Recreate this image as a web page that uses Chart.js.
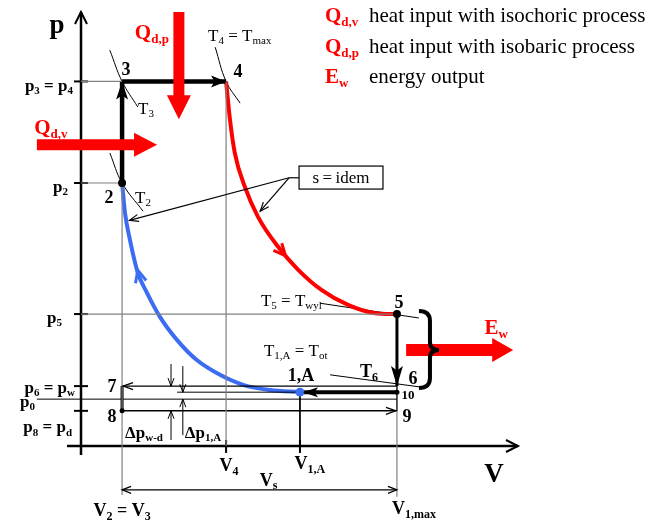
<!DOCTYPE html>
<html>
<head>
<meta charset="utf-8">
<script src="https://cdn.jsdelivr.net/npm/chart.js@4/dist/chart.umd.min.js"></script>
<style>
  html, body { margin: 0; padding: 0; background: #fff; }
  #wrap { width: 663px; height: 524px; }
</style>
</head>
<body>
<div id="wrap"><canvas id="chart" width="663" height="524"></canvas></div>
<script>
// p-V diagram of the mixed (Sabathe) cycle.
// Axis units: V and p in % of the drawn axis length.

// characteristic volumes
const V2 = 9.4, V4 = 33.2, V1A = 50.1, V1MAX = 72.3;
// characteristic pressures
const P3 = 84.0, P2 = 60.6, P5 = 30.4, P6 = 13.8, P10 = 12.4, P0 = 10.8, P8 = 8.1;

// compression 1,A -> 2 (blue) and expansion 4 -> 5 (red)
const BLUE_V = [9.4, 10.07, 11.2, 13.0, 15.1, 18.1, 22.0, 26.5, 31.8, 37.1, 43.2, 50.1];
const BLUE_P = [60.6, 53.7, 47.5, 39.9, 35.3, 29.7, 24.4, 19.8, 16.4, 14.1, 12.9, 12.4];
const RED_V = [33.2, 34.1, 35.2, 37.5, 40.5, 45.1, 49.7, 55.1, 61.1, 67.3, 72.3];
const RED_P = [84.0, 75.1, 67.5, 59.7, 52.8, 45.9, 40.6, 35.9, 32.5, 30.6, 30.4];

// isotherm sketches through 2, 3, 4 and the T5 / T6 leaders
const T2_V = [6.6, 9.4, 14.2], T2_P = [67.5, 60.6, 54.1];
const T3_V = [6.6, 9.4, 13.0], T3_P = [91.2, 84.0, 78.1];
const T4_V = [30.7, 33.2, 36.4], T4_P = [91.9, 84.0, 79.0];
const T5_V = [54.7, 77.3], T5_P = [32.9, 29.5];
const T6_V = [57.0, 77.6], T6_P = [16.4, 13.6];

const RED = "#ff0000";
const BLUE = "#3c6cf2";
const GUIDE = "#808080";
const SERIF = '"Liberation Serif", "Times New Roman", serif';

function pts(vs, ps) {
  return vs.map((v, i) => ({ x: v, y: ps[i] }));
}

function seg(vs, ps, color, width, extra) {
  return Object.assign({
    data: pts(vs, ps),
    showLine: true,
    borderColor: color,
    borderWidth: width,
    pointRadius: 0,
    pointHoverRadius: 0,
    fill: false,
    clip: false,
    tension: 0,
    order: 1,
  }, extra || {});
}

const datasets = [
  // state points 2, 5, 8, 10, 1,A
  {
    data: pts([V2, V1MAX, V2, V1MAX, V1A], [P2, P5, P8, P10, P10]),
    showLine: false,
    pointRadius: [4, 4, 2.5, 2.5, 4.5],
    pointBackgroundColor: ["#000", "#000", "#000", "#000", BLUE],
    pointBorderWidth: 0,
    clip: false,
    order: 0,
  },
  // guide lines
  seg([0, V2], [P3, P3], GUIDE, 1.2),
  seg([0, V2], [P2, P2], GUIDE, 1.2),
  seg([0, V1MAX], [P5, P5], GUIDE, 1.2),
  seg([V2, V2], [P2, -11.3], GUIDE, 1.2),
  seg([V4, V4], [P3, 0], GUIDE, 1.2),
  seg([V1MAX, V1MAX], [P8, -11.7], GUIDE, 1.2),
  seg([V1A, V1A], [P10, 0], "#000", 1),
  seg([-10.1, V1MAX], [P0, P0], "#000", 1),
  seg([22.0, V1A], [P10, P10], "#000", 1),
  // exhaust / intake strokes
  seg([V1MAX, V2], [P6, P6], "#000", 1.3),
  seg([V2, V1MAX], [P8, P8], "#000", 1.5),
  seg([V1MAX, V1MAX], [P6, P8], "#000", 1.3),
  // main cycle
  seg([V2, V2], [P2, P3], "#000", 4.5),
  seg([V2, V4], [P3, P3], "#000", 4.5),
  seg([V1MAX, V1MAX], [P5, P6], "#000", 3),
  seg([V1MAX, V1A], [P10, P10], "#000", 4),
  seg([V2, V2], [P6, P8], "#000", 3),
  seg(BLUE_V, BLUE_P, BLUE, 4, { cubicInterpolationMode: "monotone" }),
  seg(RED_V, RED_P, RED, 4, { cubicInterpolationMode: "monotone" }),
  // isotherms
  seg(T2_V, T2_P, "#000", 1, { tension: 0.4 }),
  seg(T3_V, T3_P, "#000", 1, { tension: 0.4 }),
  seg(T4_V, T4_P, "#000", 1, { tension: 0.4 }),
  seg(T5_V, T5_P, "#000", 1),
  seg(T6_V, T6_P, "#000", 1),
];

// ---- drawing helpers ----
function line(ctx, x0, y0, x1, y1, color, width) {
  ctx.beginPath();
  ctx.moveTo(x0, y0);
  ctx.lineTo(x1, y1);
  ctx.strokeStyle = color;
  ctx.lineWidth = width;
  ctx.stroke();
}

function chevron(ctx, x, y, dx, dy, len, half, color, width) {
  const n = Math.hypot(dx, dy);
  dx /= n; dy /= n;
  const bx = x - dx * len, by = y - dy * len;
  ctx.beginPath();
  ctx.moveTo(bx - dy * half, by + dx * half);
  ctx.lineTo(x, y);
  ctx.lineTo(bx + dy * half, by - dx * half);
  ctx.strokeStyle = color;
  ctx.lineWidth = width;
  ctx.lineJoin = "miter";
  ctx.stroke();
}

function headFill(ctx, x, y, dx, dy, len, half, color) {
  const n = Math.hypot(dx, dy);
  dx /= n; dy /= n;
  const bx = x - dx * len, by = y - dy * len;
  const nx = x - dx * len * 0.78, ny = y - dy * len * 0.78;
  ctx.beginPath();
  ctx.moveTo(x, y);
  ctx.lineTo(bx - dy * half, by + dx * half);
  ctx.lineTo(nx, ny);
  ctx.lineTo(bx + dy * half, by - dx * half);
  ctx.closePath();
  ctx.fillStyle = color;
  ctx.fill();
}

function bigArrow(ctx, x0, y0, x1, y1, shaftHalf, headHalf, headLen, color) {
  let dx = x1 - x0, dy = y1 - y0;
  const n = Math.hypot(dx, dy);
  dx /= n; dy /= n;
  const hx = x1 - dx * headLen, hy = y1 - dy * headLen;
  const px = -dy, py = dx;
  ctx.beginPath();
  ctx.moveTo(x0 + px * shaftHalf, y0 + py * shaftHalf);
  ctx.lineTo(hx + px * shaftHalf, hy + py * shaftHalf);
  ctx.lineTo(hx + px * headHalf, hy + py * headHalf);
  ctx.lineTo(x1, y1);
  ctx.lineTo(hx - px * headHalf, hy - py * headHalf);
  ctx.lineTo(hx - px * shaftHalf, hy - py * shaftHalf);
  ctx.lineTo(x0 - px * shaftHalf, y0 - py * shaftHalf);
  ctx.closePath();
  ctx.fillStyle = color;
  ctx.fill();
}

// text with subscripts written as x_{sub}
function rich(ctx, str, x, y, size, opts) {
  opts = opts || {};
  const weight = opts.bold ? "bold " : "";
  const color = opts.color || "#000";
  const align = opts.align || "center";
  const subSize = Math.round(size * 0.64);
  const parts = str.split(/_\{([^}]*)\}/);
  const fontOf = (i) => weight + (i % 2 ? subSize : size) + "px " + SERIF;
  let total = 0;
  const widths = parts.map((p, i) => {
    ctx.font = fontOf(i);
    const w = ctx.measureText(p).width;
    total += w;
    return w;
  });
  let cx = align === "left" ? x : align === "right" ? x - total : x - total / 2;
  ctx.fillStyle = color;
  ctx.textBaseline = "alphabetic";
  ctx.textAlign = "left";
  const base = y + size * 0.33;
  parts.forEach((p, i) => {
    ctx.font = fontOf(i);
    ctx.fillText(p, cx, i % 2 ? base + size * 0.2 : base);
    cx += widths[i];
  });
}

const diagramPlugin = {
  id: "diagram",
  beforeDraw(chart) {
    const ctx = chart.ctx;
    ctx.save();
    ctx.fillStyle = "#fff";
    ctx.fillRect(0, 0, chart.width, chart.height);
    ctx.restore();
  },
  beforeDatasetsDraw(chart) {
    const ctx = chart.ctx;
    const X = (v) => chart.scales.x.getPixelForValue(v);
    const Y = (p) => chart.scales.y.getPixelForValue(p);
    ctx.save();
    ctx.lineCap = "butt";
    // axes
    line(ctx, X(0), Y(-2.1), X(0), Y(100), "#000", 2.5);
    line(ctx, X(-3.2), Y(0), X(100), Y(0), "#000", 2.5);
    chevron(ctx, X(0), Y(100), 0, -1, 12, 6, "#000", 2);
    chevron(ctx, X(100), Y(0), 1, 0, 12, 6, "#000", 2);
    // ticks
    [P3, P2, P5, P6, P8].forEach((p) => line(ctx, X(-1.6), Y(p), X(1.6), Y(p), "#000", 2));
    [V4, V1A].forEach((v) => line(ctx, X(v), Y(1.4), X(v), Y(-1.6), "#000", 2));
    ctx.restore();
  },
  afterDatasetsDraw(chart) {
    const ctx = chart.ctx;
    const X = (v) => chart.scales.x.getPixelForValue(v);
    const Y = (p) => chart.scales.y.getPixelForValue(p);
    ctx.save();

    // arrowheads of the cycle
    headFill(ctx, X(V2), Y(P3), 0, -1, 18, 6, "#000");
    headFill(ctx, X(V4), Y(P3), 1, 0, 15, 6, "#000");
    headFill(ctx, X(V1MAX), Y(P6), 0, 1, 20, 6, "#000");
    headFill(ctx, X(V1A) + 3, Y(P10), -1, 0, 15, 5, "#000");
    chevron(ctx, X(V2) + 1, Y(P6), -1, 0, 10, 3.5, "#000", 1.2);
    chevron(ctx, X(V1MAX) - 1, Y(P8), 1, 0, 10, 3.5, "#000", 1.2);

    // direction arrows on the curves
    chevron(ctx, X(13.0), Y(40.5), X(11.2) - X(13.0), Y(47.5) - Y(40.5), 12, 5.5, BLUE, 3);
    chevron(ctx, X(46.8), Y(43.8), X(49.7) - X(45.1), Y(40.6) - Y(45.9), 12, 5.5, RED, 3);

    // pressure differences
    const dW = 20.6, dA = 23.3;
    line(ctx, X(dW), Y(18.9), X(dW), Y(P6), "#000", 1);
    chevron(ctx, X(dW), Y(P6), 0, 1, 8, 3, "#000", 1);
    line(ctx, X(dW), Y(1.4), X(dW), Y(P8), "#000", 1);
    chevron(ctx, X(dW), Y(P8), 0, -1, 8, 3, "#000", 1);
    line(ctx, X(dA), Y(18.4), X(dA), Y(P10), "#000", 1);
    chevron(ctx, X(dA), Y(P10), 0, 1, 8, 3, "#000", 1);
    line(ctx, X(dA), Y(2.5), X(dA), Y(P0), "#000", 1);
    chevron(ctx, X(dA), Y(P0), 0, -1, 8, 3, "#000", 1);

    // swept volume
    const vsP = -10.1;
    line(ctx, X(V2), Y(vsP), X(V1MAX), Y(vsP), "#000", 1.2);
    chevron(ctx, X(V2), Y(vsP), -1, 0, 9, 3.5, "#000", 1.2);
    chevron(ctx, X(V1MAX), Y(vsP), 1, 0, 9, 3.5, "#000", 1.2);

    // s = idem box and leaders
    const jx = X(47.6), jy = Y(61.8);
    ctx.strokeStyle = "#000";
    ctx.lineWidth = 1.2;
    ctx.strokeRect(X(49.9), Y(64.5), X(69.1) - X(49.9), Y(59.2) - Y(64.5));
    line(ctx, jx, jy, X(49.9), jy, "#000", 1.2);
    line(ctx, jx, jy, X(11.1), Y(52.0), "#000", 1.2);
    chevron(ctx, X(11.1), Y(52.0), X(11.1) - jx, Y(52.0) - jy, 9, 3.5, "#000", 1.2);
    line(ctx, jx, jy, X(41.0), Y(54.1), "#000", 1.2);
    chevron(ctx, X(41.0), Y(54.1), X(41.0) - jx, Y(54.1) - jy, 9, 3.5, "#000", 1.2);
    rich(ctx, "s\u2009=\u2009idem", (X(49.9) + X(69.1)) / 2, jy, 17);

    // heat / work arrows
    bigArrow(ctx, X(22.4), Y(100), X(22.4), Y(75.3), 5.5, 12, 24, RED);
    bigArrow(ctx, X(-10.1), Y(69.4), X(17.4), Y(69.4), 5.5, 12, 23, RED);
    bigArrow(ctx, X(74.4), Y(22.1), X(98.9), Y(22.1), 6, 12, 21, RED);

    // brace grouping 5 .. 6
    const bx = X(V1MAX) + 33, top = Y(P5) - 3, bot = Y(P6) + 2, mid = Y(22.1);
    ctx.beginPath();
    ctx.moveTo(bx - 11, top);
    ctx.quadraticCurveTo(bx, top, bx, top + 10);
    ctx.lineTo(bx, mid - 8);
    ctx.quadraticCurveTo(bx, mid, bx + 9, mid);
    ctx.quadraticCurveTo(bx, mid, bx, mid + 8);
    ctx.lineTo(bx, bot - 10);
    ctx.quadraticCurveTo(bx, bot, bx - 11, bot);
    ctx.strokeStyle = "#000";
    ctx.lineWidth = 4;
    ctx.stroke();

    // axis names
    rich(ctx, "p", X(0) - 24, Y(100) + 12, 27, { bold: true });
    rich(ctx, "V", X(100) - 24, Y(0) + 27, 27, { bold: true });

    // pressure levels
    const L = X(0);
    rich(ctx, "p_{3} = p_{4}", L - 8, Y(P3) + 4, 17, { bold: true, align: "right" });
    rich(ctx, "p_{2}", L - 13, Y(P2) + 3, 17, { bold: true, align: "right" });
    rich(ctx, "p_{5}", L - 19, Y(P5) + 3, 17, { bold: true, align: "right" });
    rich(ctx, "p_{6} = p_{w}", L - 6, Y(P6) + 1, 17, { bold: true, align: "right" });
    rich(ctx, "p_{0}", L - 46, Y(P0) + 2, 17, { bold: true, align: "right" });
    rich(ctx, "p_{8} = p_{d}", L - 9, Y(P8) + 16, 17, { bold: true, align: "right" });

    // state numbers
    rich(ctx, "3", X(V2) + 4, Y(P3) - 12, 18, { bold: true });
    rich(ctx, "4", X(V4) + 12, Y(P3) - 10, 18, { bold: true });
    rich(ctx, "2", X(V2) - 13, Y(P2) + 14, 18, { bold: true });
    rich(ctx, "5", X(V1MAX) + 2, Y(P5) - 12, 18, { bold: true });
    rich(ctx, "6", X(V1MAX) + 16, Y(P6) - 8, 18, { bold: true });
    rich(ctx, "7", X(V2) - 10, Y(P6), 18, { bold: true });
    rich(ctx, "8", X(V2) - 10, Y(P8) + 5, 18, { bold: true });
    rich(ctx, "9", X(V1MAX) + 10, Y(P8) + 5, 18, { bold: true });
    rich(ctx, "10", X(V1MAX) + 11, Y(P10) + 3, 13, { bold: true });
    rich(ctx, "1,A", X(V1A) + 1, Y(P10) - 17, 18, { bold: true });

    // temperatures
    rich(ctx, "T_{3}", X(V2) + 16, Y(P3) + 27, 17, { align: "left" });
    rich(ctx, "T_{2}", X(V2) + 13, Y(P2) + 14, 17, { align: "left" });
    rich(ctx, "T_{4} = T_{max}", X(V4) - 18, Y(P3) - 46, 17, { align: "left" });
    rich(ctx, "T_{5} = T_{wyl}", X(V1MAX) - 136, Y(P5) - 14, 17, { align: "left" });
    rich(ctx, "T_{1,A} = T_{ot}", X(V1MAX) - 133, Y(P6) - 36, 17, { align: "left" });
    rich(ctx, "T_{6}", X(V1MAX) - 28, Y(P6) - 15, 18, { bold: true });

    // pressure differences / volumes
    rich(ctx, "Δp_{w-d}", X(V2) + 3, Y(0) - 14, 17, { bold: true, align: "left" });
    rich(ctx, "Δp_{1,A}", X(dA) + 2, Y(0) - 14, 17, { bold: true, align: "left" });
    rich(ctx, "V_{4}", X(V4) + 3, Y(0) + 19, 18, { bold: true });
    rich(ctx, "V_{1,A}", X(V1A) + 10, Y(0) + 17, 18, { bold: true });
    rich(ctx, "V_{s}", (X(V2) + X(V1MAX)) / 2 + 9, Y(vsP) - 10, 18, { bold: true });
    rich(ctx, "V_{2} = V_{3}", X(V2), Y(0) + 64, 18, { bold: true });
    rich(ctx, "V_{1,max}", X(V1MAX) + 17, Y(0) + 62, 18, { bold: true });

    // arrow captions
    rich(ctx, "Q_{d,p}", X(22.4) - 27, Y(100) + 20, 21, { bold: true, color: RED });
    rich(ctx, "Q_{d,v}", X(-10.1) + 14, Y(69.4) - 18, 21, { bold: true, color: RED });
    rich(ctx, "E_{w}", X(98.9) - 17, Y(22.1) - 23, 21, { bold: true, color: RED });

    // key
    const kx = 325, tx = 369;
    rich(ctx, "Q_{d,v}", kx, 15, 21, { bold: true, color: RED, align: "left" });
    rich(ctx, "heat input with isochoric process", tx, 15, 21, { align: "left" });
    rich(ctx, "Q_{d,p}", kx, 46, 21, { bold: true, color: RED, align: "left" });
    rich(ctx, "heat input with isobaric process", tx, 46, 21, { align: "left" });
    rich(ctx, "E_{w}", kx, 76, 21, { bold: true, color: RED, align: "left" });
    rich(ctx, "energy output", tx, 76, 21, { align: "left" });

    ctx.restore();
  },
};

new Chart(document.getElementById("chart"), {
  type: "scatter",
  data: { datasets },
  options: {
    responsive: false,
    animation: false,
    events: [],
    layout: { padding: { left: 81, top: 12, right: 145, bottom: 78 } },
    scales: {
      x: { type: "linear", min: 0, max: 100, display: false },
      y: { type: "linear", min: 0, max: 100, display: false },
    },
    plugins: { legend: { display: false }, tooltip: { enabled: false } },
  },
  plugins: [diagramPlugin],
});
</script>
</body>
</html>
